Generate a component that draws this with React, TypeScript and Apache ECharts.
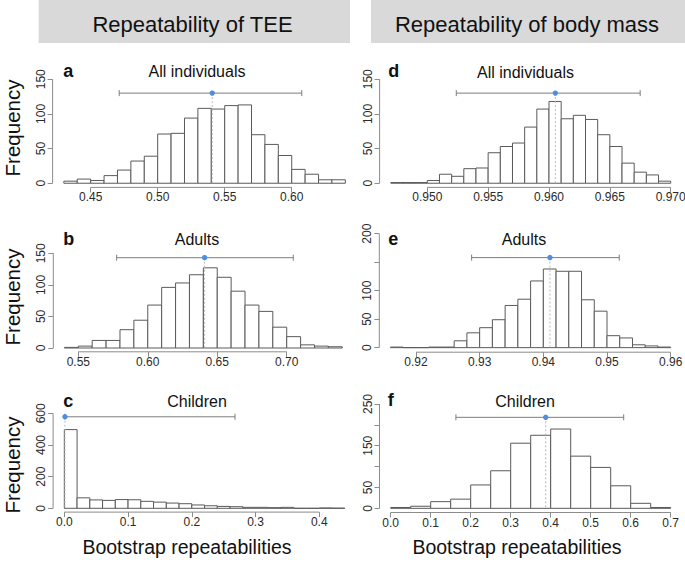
import React, { useEffect, useRef } from "react";
import * as echarts from "echarts";

const FONT = '"Liberation Sans", Arial, Helvetica, sans-serif';

// ---------- texts ----------
const columnHeaders = ["Repeatability of TEE", "Repeatability of body mass"];
const panelTitles = ["All individuals", "Adults", "Children", "All individuals", "Adults", "Children"];
const panelLetters = ["a", "b", "c", "d", "e", "f"];
const yAxisName = "Frequency";
const xAxisName = "Bootstrap repeatabilities";

// ---------- panel a: TEE, all individuals ----------
const edgesA = [0.43, 0.44, 0.45, 0.46, 0.47, 0.48, 0.49, 0.5, 0.51, 0.52, 0.53, 0.54, 0.55, 0.56, 0.57, 0.58, 0.59, 0.6, 0.61, 0.62, 0.63, 0.64];
const countsA = [3, 6, 4, 11, 19, 32, 39, 71, 72, 94, 108, 107, 112, 113, 70, 56, 40, 20, 13, 5, 5];
const xTicksA = [0.45, 0.5, 0.55, 0.6];
const yTicksA = [0, 50, 100, 150];
const yLabelsA = [0, 50, 100, 150];
const ciA = [0.4713, 0.6075];
const medA = 0.5407;
const ciYA = 130;

// ---------- panel b: TEE, adults ----------
const edgesB = [0.54, 0.55, 0.56, 0.57, 0.58, 0.59, 0.6, 0.61, 0.62, 0.63, 0.64, 0.65, 0.66, 0.67, 0.68, 0.69, 0.7, 0.71, 0.72, 0.73, 0.74];
const countsB = [1, 3, 12, 12, 29, 44, 68, 96, 103, 116, 127, 112, 90, 68, 58, 33, 18, 5, 3, 2];
const xTicksB = [0.55, 0.6, 0.65, 0.7];
const yTicksB = [0, 50, 100, 150];
const yLabelsB = [0, 50, 100, 150];
const ciB = [0.5776, 0.7047];
const medB = 0.6409;
const ciYB = 143;

// ---------- panel c: TEE, children ----------
const edgesC = [0, 0.02, 0.04, 0.06, 0.08, 0.1, 0.12, 0.14, 0.16, 0.18, 0.2, 0.22, 0.24, 0.26, 0.28, 0.3, 0.32, 0.34, 0.36, 0.38, 0.4, 0.42, 0.44];
const countsC = [497, 66, 53, 50, 55, 54, 44, 39, 33, 29, 21, 16, 12, 10, 6, 6, 4, 6, 0, 0, 2, 1];
const xTicksC = [0, 0.1, 0.2, 0.3, 0.4];
const yTicksC = [0, 200, 400, 600];
const yLabelsC = [0, 200, 400, 600];
const ciC = [0.001, 0.2678];
const medC = 0.001;
const ciYC = 578;

// ---------- panel d: body mass, all individuals ----------
const edgesD = [0.947, 0.948, 0.949, 0.95, 0.951, 0.952, 0.953, 0.954, 0.955, 0.956, 0.957, 0.958, 0.959, 0.96, 0.961, 0.962, 0.963, 0.964, 0.965, 0.966, 0.967, 0.968, 0.969, 0.97];
const countsD = [1, 1, 1, 4, 13, 10, 21, 22, 44, 53, 58, 81, 107, 118, 93, 98, 92, 70, 53, 29, 16, 12, 3];
const xTicksD = [0.95, 0.955, 0.96, 0.965, 0.97];
const yTicksD = [0, 50, 100, 150];
const yLabelsD = [0, 50, 100, 150];
const ciD = [0.95238, 0.96749];
const medD = 0.96052;
const ciYD = 130;

// ---------- panel e: body mass, adults ----------
const edgesE = [0.916, 0.918, 0.92, 0.922, 0.924, 0.926, 0.928, 0.93, 0.932, 0.934, 0.936, 0.938, 0.94, 0.942, 0.944, 0.946, 0.948, 0.95, 0.952, 0.954, 0.956, 0.958, 0.96];
const countsE = [1, 0, 0, 1, 1, 12, 26, 35, 49, 74, 85, 117, 138, 134, 134, 84, 64, 21, 17, 5, 3, 1];
const xTicksE = [0.92, 0.93, 0.94, 0.95, 0.96];
const yTicksE = [0, 50, 100, 150, 200];
const yLabelsE = [0, 50, 100, 200];
const ciE = [0.92874, 0.95192];
const medE = 0.94104;
const ciYE = 158;

// ---------- panel f: body mass, children ----------
const edgesF = [0, 0.05, 0.1, 0.15, 0.2, 0.25, 0.3, 0.35, 0.4, 0.45, 0.5, 0.55, 0.6, 0.65, 0.7];
const countsF = [2, 5, 16, 22, 56, 90, 156, 175, 190, 125, 98, 54, 12, 2];
const xTicksF = [0, 0.1, 0.2, 0.3, 0.4, 0.5, 0.6, 0.7];
const yTicksF = [0, 50, 100, 150, 200, 250];
const yLabelsF = [0, 50, 150, 250];
const ciF = [0.163, 0.5825];
const medF = 0.3875;
const ciYF = 218;

const panels = [
  { edges: edgesA, counts: countsA, xTicks: xTicksA, xDec: 2, yTicks: yTicksA, yLabels: yLabelsA, ci: ciA, med: medA, ciY: ciYA },
  { edges: edgesB, counts: countsB, xTicks: xTicksB, xDec: 2, yTicks: yTicksB, yLabels: yLabelsB, ci: ciB, med: medB, ciY: ciYB },
  { edges: edgesC, counts: countsC, xTicks: xTicksC, xDec: 1, yTicks: yTicksC, yLabels: yLabelsC, ci: ciC, med: medC, ciY: ciYC },
  { edges: edgesD, counts: countsD, xTicks: xTicksD, xDec: 3, yTicks: yTicksD, yLabels: yLabelsD, ci: ciD, med: medD, ciY: ciYD },
  { edges: edgesE, counts: countsE, xTicks: xTicksE, xDec: 2, yTicks: yTicksE, yLabels: yLabelsE, ci: ciE, med: medE, ciY: ciYE },
  { edges: edgesF, counts: countsF, xTicks: xTicksF, xDec: 1, yTicks: yTicksF, yLabels: yLabelsF, ci: ciF, med: medF, ciY: ciYF },
];

// ---------- layout (pixels) ----------
const gridBoxes = [
  { left: 52.6, top: 75.1, width: 304, height: 112.3 },
  { left: 53.3, top: 249.5, width: 300.1, height: 102.3 },
  { left: 53.1, top: 409.5, width: 302.9, height: 102.6 },
  { left: 379.6, top: 75.1, width: 302.3, height: 112.3 },
  { left: 379.3, top: 229.1, width: 302.6, height: 123.1 },
  { left: 379.5, top: 399.8, width: 302.4, height: 112.7 },
];
const titlePos = [
  [197, 71.8], [197, 239.5], [197, 401.3], [525.5, 72.3], [524, 239.5], [525, 401],
];
const letterPos = [
  [63.3, 71.1], [63.3, 238.8], [63.3, 400.5], [388.3, 70.8], [388.3, 238.8], [387.7, 399.8],
];
const headerBoxes = [
  { x: 38.6, y: 0, w: 311.4, h: 43, tx: 192.5, ty: 24 },
  { x: 371, y: 0, w: 314, h: 43, tx: 527, ty: 24 },
];
const freqPos = [[12, 128], [12, 297], [12, 465]];
const bootPos = [[187, 547], [517, 547]];

const AXIS_COLOR = "#8c8c8c";
const LABEL_COLOR = "#2a2a2a";
const BAR_STROKE = "#5a5a5a";
const CI_COLOR = "#7d7d7d";
const DOT_COLOR = "#4f8ddf";

export default function App() {
  const ref = useRef<HTMLDivElement>(null);

  useEffect(() => {
    if (!ref.current) return;
    const chart = echarts.init(ref.current, undefined, { renderer: "svg" });

    const grid: any[] = [];
    const xAxis: any[] = [];
    const yAxis: any[] = [];
    const series: any[] = [];

    panels.forEach((p, i) => {
      const b = gridBoxes[i];
      const e0 = p.edges[0];
      const eN = p.edges[p.edges.length - 1];
      const xPad = 0.04 * (eN - e0);
      const yTop = p.yTicks[p.yTicks.length - 1];
      const yPad = 0.04 * yTop;
      const xMin = e0 - xPad;
      const xMax = eN + xPad;
      const yMin = -yPad;
      const yMax = yTop + yPad;

      grid.push({ left: b.left, top: b.top, width: b.width, height: b.height, containLabel: false, outerBoundsMode: "none" });
      xAxis.push({
        gridIndex: i,
        type: "value",
        min: xMin,
        max: xMax,
        axisLine: { show: false, onZero: false },
        splitLine: { show: false },
        axisTick: { show: true, customValues: p.xTicks, length: 5, lineStyle: { color: AXIS_COLOR, width: 1 } },
        axisLabel: {
          customValues: p.xTicks,
          formatter: (v: number) => v.toFixed(p.xDec),
          margin: 4,
          fontSize: 12,
          fontFamily: FONT,
          color: LABEL_COLOR,
          showMinLabel: true,
          showMaxLabel: true,
        },
      });
      yAxis.push({
        gridIndex: i,
        type: "value",
        min: yMin,
        max: yMax,
        axisLine: { show: false, onZero: false },
        splitLine: { show: false },
        axisTick: { show: true, customValues: p.yTicks, length: 5, lineStyle: { color: AXIS_COLOR, width: 1 } },
        axisLabel: {
          customValues: p.yLabels,
          rotate: 90,
          formatter: (v: number) => String(Math.round(v)),
          margin: 6,
          fontSize: 12,
          fontFamily: FONT,
          color: LABEL_COLOR,
          showMinLabel: true,
          showMaxLabel: true,
        },
      });

      // histogram bars
      const barData = p.counts.map((c, k) => [p.edges[k], p.edges[k + 1], c]);
      series.push({
        type: "custom",
        xAxisIndex: i,
        yAxisIndex: i,
        silent: true,
        clip: false,
        encode: { x: [0, 1], y: 2 },
        data: barData,
        renderItem: (_params: any, api: any) => {
          const p0 = api.coord([api.value(0), 0]);
          const p1 = api.coord([api.value(1), api.value(2)]);
          return {
            type: "rect",
            shape: { x: p0[0], y: p1[1], width: p1[0] - p0[0], height: p0[1] - p1[1] },
            style: { fill: "#ffffff", stroke: BAR_STROKE, lineWidth: 1 },
          };
        },
      });

      // R-style axis lines (first to last tick)
      series.push({
        type: "custom",
        xAxisIndex: i,
        yAxisIndex: i,
        silent: true,
        clip: false,
        data: [[p.xTicks[0], yMin]],
        renderItem: (_params: any, api: any) => {
          const xa = api.coord([p.xTicks[0], yMin]);
          const xb = api.coord([p.xTicks[p.xTicks.length - 1], yMin]);
          const ya = api.coord([xMin, p.yTicks[0]]);
          const yb = api.coord([xMin, p.yTicks[p.yTicks.length - 1]]);
          return {
            type: "group",
            children: [
              { type: "line", shape: { x1: xa[0], y1: xa[1], x2: xb[0], y2: xb[1] }, style: { stroke: AXIS_COLOR, lineWidth: 1 } },
              { type: "line", shape: { x1: ya[0], y1: ya[1], x2: yb[0], y2: yb[1] }, style: { stroke: AXIS_COLOR, lineWidth: 1 } },
            ],
          };
        },
      });

      // bootstrap interval, median line and point
      series.push({
        type: "custom",
        xAxisIndex: i,
        yAxisIndex: i,
        silent: true,
        clip: false,
        encode: { x: [0, 1, 2], y: 3 },
        data: [[p.ci[0], p.ci[1], p.med, p.ciY]],
        renderItem: (_params: any, api: any) => {
          const lo = api.coord([api.value(0), api.value(3)]);
          const hi = api.coord([api.value(1), api.value(3)]);
          const md = api.coord([api.value(2), api.value(3)]);
          const base = api.coord([api.value(2), 0]);
          const cap = 3;
          return {
            type: "group",
            children: [
              { type: "line", shape: { x1: md[0], y1: md[1], x2: base[0], y2: base[1] }, style: { stroke: "#b8b8b8", lineWidth: 1, lineDash: [2, 2] } },
              { type: "line", shape: { x1: lo[0], y1: lo[1], x2: hi[0], y2: hi[1] }, style: { stroke: CI_COLOR, lineWidth: 1 } },
              { type: "line", shape: { x1: lo[0], y1: lo[1] - cap, x2: lo[0], y2: lo[1] + cap }, style: { stroke: CI_COLOR, lineWidth: 1 } },
              { type: "line", shape: { x1: hi[0], y1: hi[1] - cap, x2: hi[0], y2: hi[1] + cap }, style: { stroke: CI_COLOR, lineWidth: 1 } },
              { type: "circle", shape: { cx: md[0], cy: md[1], r: 2.7 }, style: { fill: DOT_COLOR } },
            ],
          };
        },
      });
    });

    const graphic: any[] = [];
    headerBoxes.forEach((h, k) => {
      graphic.push({ type: "rect", shape: { x: h.x, y: h.y, width: h.w, height: h.h }, style: { fill: "#d9d9d9" }, silent: true });
      graphic.push({
        type: "text", x: h.tx, y: h.ty, silent: true,
        style: { text: columnHeaders[k], font: `22px ${FONT}`, fill: "#111", textAlign: "center", textVerticalAlign: "middle" },
      });
    });
    panelTitles.forEach((t, k) => {
      graphic.push({
        type: "text", x: titlePos[k][0], y: titlePos[k][1], silent: true,
        style: { text: t, font: `16px ${FONT}`, fill: "#111", textAlign: "center", textVerticalAlign: "middle" },
      });
      graphic.push({
        type: "text", x: letterPos[k][0], y: letterPos[k][1], silent: true,
        style: { text: panelLetters[k], font: `bold 18px ${FONT}`, fill: "#111", textAlign: "left", textVerticalAlign: "middle" },
      });
    });
    freqPos.forEach((fp) => {
      graphic.push({
        type: "text", x: fp[0], y: fp[1], rotation: Math.PI / 2, silent: true,
        style: { text: yAxisName, font: `20.5px ${FONT}`, fill: "#111", textAlign: "center", textVerticalAlign: "middle" },
      });
    });
    bootPos.forEach((bp) => {
      graphic.push({
        type: "text", x: bp[0], y: bp[1], silent: true,
        style: { text: xAxisName, font: `19.5px ${FONT}`, fill: "#111", textAlign: "center", textVerticalAlign: "middle" },
      });
    });

    chart.setOption({
      animation: false,
      backgroundColor: "#ffffff",
      grid,
      xAxis,
      yAxis,
      series,
      graphic: { elements: graphic },
    });

    return () => {
      chart.dispose();
    };
  }, []);

  return (
    <div
      ref={ref}
      style={{ position: "absolute", left: 0, top: 0, width: 685, height: 562 }}
    />
  );
}
